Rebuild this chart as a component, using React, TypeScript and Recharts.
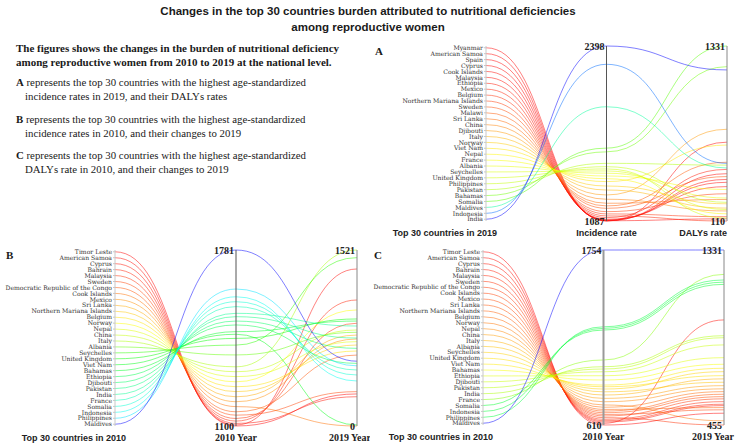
import React from 'react';
import { LineChart, Line, XAxis, YAxis, ReferenceLine } from 'recharts';

// panel A: top 30 by incidence in 2019 (listed top -> bottom on the left axis)
const countriesA = [
  'Myanmar', 'American Samoa', 'Spain', 'Cyprus', 'Cook Islands', 'Malaysia', 'Ethiopia', 'Mexico',
  'Belgium', 'Northern Mariana Islands', 'Sweden', 'Malawi', 'Sri Lanka', 'China', 'Djibouti', 'Italy',
  'Norway', 'Viet Nam', 'Nepal', 'France', 'Albania', 'Seychelles', 'United Kingdom', 'Philippines',
  'Pakistan', 'Bahamas', 'Somalia', 'Maldives', 'Indonesia', 'India',
];
const incidenceA = [
  1087, 1088, 1089, 1091, 1095, 1100, 1112, 1125, 1140, 1157, 1182, 1200, 1220, 1250, 1282, 1319,
  1349, 1382, 1404, 1424, 1445, 1462, 1477, 1494, 1519, 1605, 1633, 1943, 2261, 2398,
];
const dalysA = [
  660, 440, 125, 400, 380, 350, 470, 110, 140, 300, 420, 520, 260, 180, 750, 200,
  230, 640, 160, 330, 270, 190, 130, 240, 500, 1187, 1331, 480, 512, 1164,
];

// panels B and C share the 2010 country list
const countries2010 = [
  'Timor Leste', 'American Samoa', 'Cyprus', 'Bahrain', 'Malaysia', 'Sweden',
  'Democratic Republic of the Congo', 'Cook Islands', 'Mexico', 'Sri Lanka', 'Northern Mariana Islands',
  'Belgium', 'Norway', 'Nepal', 'China', 'Italy', 'Albania', 'Seychelles', 'United Kingdom', 'Viet Nam',
  'Bahamas', 'Ethiopia', 'Djibouti', 'Pakistan', 'India', 'France', 'Somalia', 'Indonesia', 'Philippines',
  'Maldives',
];
const incidence2010B = [
  1100, 1104, 1110, 1119, 1129, 1142, 1155, 1175, 1194, 1213, 1233, 1252, 1271, 1291, 1310, 1329,
  1375, 1413, 1439, 1455, 1465, 1491, 1506, 1523, 1536, 1562, 1581, 1600, 1630, 1781,
];
const incidence2019B = [
  277, 1357, 253, 1089, 888, 297, 613, 0, 752, 786, 700, 648, 1003, 729, 830, 1521,
  810, 1455, 925, 9, 907, 541, 671, 760, 864, 484, 441, 389, 520, 560,
];
const dalys2010C = [
  610, 621, 630, 638, 647, 658, 669, 679, 690, 701, 712, 726, 741, 762, 784, 806,
  827, 845, 860, 871, 904, 932, 958, 976, 991, 1035, 1231, 1242, 1252, 1754,
];
const dalys2019C = [
  514, 981, 552, 559, 572, 455, 586, 531, 597, 609, 542, 622, 476, 636, 652, 686,
  669, 722, 702, 739, 759, 792, 856, 892, 902, 1209, 1159, 1170, 1181, 1331,
];

const SANS = 'Liberation Sans, Arial, sans-serif';
const SERIF = 'Liberation Serif, Times New Roman, serif';
const LABEL_SERIF = 'DejaVu Serif, serif';

// left axis slot for country i (top = 1)
const slot = (i: number) => (29.3 - i) / 29.6;
const slotIndex = (v: number) => Math.round(29.3 - v * 29.6);

const CountryTick = (props: any) => {
  const { x, y, payload, names } = props;
  return (
    <text x={x} y={y} dy={2.2} textAnchor="end" fontSize={6.1} fontFamily={LABEL_SERIF} fill="#333">
      {names[slotIndex(payload.value)]}
    </text>
  );
};

const TitleTick = (props: any) => {
  const { x, y, payload, titles, dy } = props;
  const t = titles[payload.value];
  return (
    <text x={x + t.dx} y={y + dy} textAnchor={t.anchor} fontSize={t.serif ? 10 : 9}
      fontWeight="bold" fontFamily={t.serif ? SERIF : SANS} fill="#222">
      {t.text}
    </text>
  );
};

const EndLabels = (props: any) => {
  const { viewBox, top, bottom } = props;
  if (!viewBox) return null;
  const { x, y, height } = viewBox;
  const st = { fontSize: 10, fontWeight: 'bold' as const, fontFamily: SERIF, fill: '#222' };
  return (
    <g>
      <text x={x - 2} y={y + 3.5} textAnchor="end" {...st}>{top}</text>
      <text x={x - 2} y={y + height + 3.5} textAnchor="end" {...st}>{bottom}</text>
    </g>
  );
};

const Panel = (props: any) => {
  const { left, top, width, height, plot, names, mid, right, titles, titleDy, midStroke, midWidth } = props;
  const midMin = Math.min(...mid), midMax = Math.max(...mid);
  const rMin = Math.min(...right), rMax = Math.max(...right);
  const rows: any[] = [{ pos: 0 }, { pos: 1 }, { pos: 2 }];
  names.forEach((_: string, i: number) => {
    rows[0]['c' + i] = slot(i);
    rows[1]['c' + i] = (mid[i] - midMin) / (midMax - midMin);
    rows[2]['c' + i] = (right[i] - rMin) / (rMax - rMin);
  });
  const ticks = names.map((_: string, i: number) => slot(i));

  return (
    <div style={{ position: 'absolute', left, top, width, height }}>
      <LineChart width={width} height={height} data={rows}
        margin={{ top: plot.t, right: plot.r, bottom: 0, left: 0 }}>
        <XAxis dataKey="pos" type="number" domain={[0, 2]} ticks={[0, 1, 2]} interval={0}
          axisLine={false} tickLine={false} tickSize={0} tickMargin={0} height={plot.b}
          tick={<TitleTick titles={titles} dy={titleDy} />} />
        <YAxis type="number" domain={[0, 1]} ticks={ticks} interval={0} width={plot.l}
          axisLine={{ stroke: '#c8c8c8' }} tickLine={{ stroke: '#c8c8c8' }} tickSize={2} tickMargin={1}
          tick={<CountryTick names={names} />} />
        {names.map((n: string, i: number) => {
          const t = (mid[i] - midMin) / (midMax - midMin);
          return (
            <Line key={n} dataKey={'c' + i} type="bumpX" stroke={`hsl(${t * 240}, 100%, 50%)`}
              strokeOpacity={0.5} strokeWidth={1} dot={false} activeDot={false} isAnimationActive={false} />
          );
        })}
        <ReferenceLine x={1} stroke={midStroke} strokeWidth={midWidth}
          label={<EndLabels top={String(midMax)} bottom={String(midMin)} />} />
        <ReferenceLine x={2} stroke="#888" strokeWidth={1}
          label={<EndLabels top={String(rMax)} bottom={String(rMin)} />} />
      </LineChart>
    </div>
  );
};

const txt: React.CSSProperties = { position: 'absolute', fontFamily: SERIF, fontSize: 10.8, color: '#1a1a1a', whiteSpace: 'nowrap', lineHeight: '12px' };

export default function App() {
  return (
    <div style={{ position: 'absolute', left: 0, top: 0, width: 736, height: 445, background: '#fff', overflow: 'hidden' }}>
      <div style={{ position: 'absolute', left: 0, top: 3, width: 736, textAlign: 'center', fontFamily: SANS, fontWeight: 'bold', fontSize: 11.5, lineHeight: '16px', color: '#1a1a1a' }}>
        Changes in the top 30 countries burden attributed to nutritional deficiencies<br />among reproductive women
      </div>

      <div style={{ ...txt, left: 16, top: 42, fontWeight: 'bold', fontSize: 11 }}>The figures shows the changes in the burden of nutritional deficiency</div>
      <div style={{ ...txt, left: 16, top: 56, fontWeight: 'bold', fontSize: 11 }}>among reproductive women from 2010 to 2019 at the national level.</div>
      <div style={{ ...txt, left: 16, top: 76 }}><b>A</b> represents the top 30 countries with the highest age-standardized</div>
      <div style={{ ...txt, left: 25, top: 90 }}>incidence rates in 2019, and their DALYs rates</div>
      <div style={{ ...txt, left: 16, top: 113 }}><b>B</b> represents the top 30 countries with the highest age-standardized</div>
      <div style={{ ...txt, left: 25, top: 127 }}>incidence rates in 2010, and their changes to 2019</div>
      <div style={{ ...txt, left: 16, top: 149 }}><b>C</b> represents the top 30 countries with the highest age-standardized</div>
      <div style={{ ...txt, left: 25, top: 163 }}>DALYs rate in 2010, and their changes to 2019</div>

      <div style={{ ...txt, left: 375, top: 45, fontWeight: 'bold', fontSize: 11 }}>A</div>
      <div style={{ ...txt, left: 6, top: 249, fontWeight: 'bold', fontSize: 11 }}>B</div>
      <div style={{ ...txt, left: 374, top: 249, fontWeight: 'bold', fontSize: 11 }}>C</div>

      <Panel left={370} top={40} width={366} height={205} plot={{ l: 116, r: 9, t: 6, b: 24 }}
        names={countriesA} mid={incidenceA} right={dalysA} titleDy={15} midStroke="#555" midWidth={1}
        titles={[
          { text: 'Top 30 countries in 2019', anchor: 'end', dx: 11 },
          { text: 'Incidence rate', anchor: 'middle', dx: 0 },
          { text: 'DALYs rate', anchor: 'end', dx: 0 },
        ]} />
      <Panel left={0} top={244} width={370} height={201} plot={{ l: 115, r: 13, t: 6, b: 19 }}
        names={countries2010} mid={incidence2010B} right={incidence2019B} titleDy={14.5} midStroke="#555" midWidth={1}
        titles={[
          { text: 'Top 30 countries in 2010', anchor: 'end', dx: 11 },
          { text: '2010 Year', anchor: 'middle', dx: 0, serif: true },
          { text: '2019 Year', anchor: 'end', dx: 14, serif: true },
        ]} />
      <Panel left={370} top={244} width={366} height={201} plot={{ l: 113, r: 12, t: 6, b: 20 }}
        names={countries2010} mid={dalys2010C} right={dalys2019C} titleDy={15} midStroke="#999" midWidth={2}
        titles={[
          { text: 'Top 30 countries in 2010', anchor: 'end', dx: 10 },
          { text: '2010 Year', anchor: 'middle', dx: 0, serif: true },
          { text: '2019 Year', anchor: 'end', dx: 10, serif: true },
        ]} />
    </div>
  );
}
